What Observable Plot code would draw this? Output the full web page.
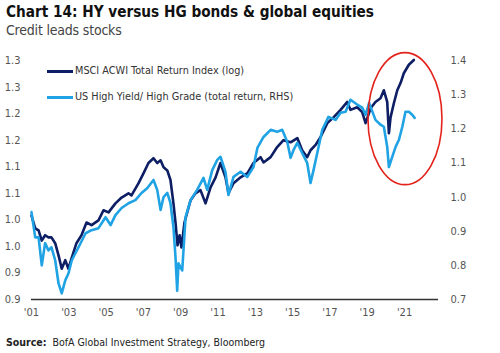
<!DOCTYPE html>
<html>
<head>
<meta charset="utf-8">
<script src="https://cdn.jsdelivr.net/npm/d3@7"></script>
<script src="https://cdn.jsdelivr.net/npm/@observablehq/plot@0.6"></script>
<style>
  html, body { margin: 0; padding: 0; background: #fff; }
  body { width: 500px; height: 353px; overflow: hidden; }
  #wrap { position: relative; width: 500px; height: 353px;
    font-family: "Liberation Sans Narrow", "DejaVu Sans Condensed", "Arial Narrow", Roboto, sans-serif; font-stretch: condensed; }
  .title { position: absolute; left: 6px; top: 3px; font-size: 15.2px; font-weight: bold; line-height: 18px; color: #111; white-space: nowrap; }
  .subtitle { position: absolute; left: 6px; top: 21px; font-size: 14px; letter-spacing: -0.2px; line-height: 18px; color: #444; white-space: nowrap; }
  .source { position: absolute; left: 6px; top: 334px; font-size: 10.5px; line-height: 16px; color: #222; white-space: nowrap; }
  .legend { position: absolute; left: 47px; font-size: 10.8px; line-height: 14px; color: #333; white-space: nowrap; display: flex; align-items: center; }
  .legend .sw { display: inline-block; width: 26px; height: 3px; margin-right: 2px; }
  #chart svg { position: absolute; left: 0; top: 40px; }
</style>
</head>
<body>
<div id="wrap">
  <div class="title">Chart 14: HY versus HG bonds &amp; global equities</div>
  <div class="subtitle">Credit leads stocks</div>
  <div id="chart"></div>
  <div class="legend" style="top:64px"><span class="sw" style="background:#0d1e64"></span>MSCI ACWI Total Return Index (log)</div>
  <div class="legend" style="top:90px"><span class="sw" style="background:#1fa3e4"></span>US High Yield/ High Grade (total return, RHS)</div>
  <div class="source"><b>Source:</b>&nbsp; BofA Global Investment Strategy, Bloomberg</div>
</div>
<script>
// MSCI ACWI Total Return Index (log) — left axis
const msciYears = [2001.00,2001.20,2001.38,2001.55,2001.73,2001.91,2002.07,2002.27,2002.45,2002.62,2002.81,2002.98,2003.16,2003.41,2003.68,2003.95,2004.22,2004.59,2004.86,2005.13,2005.50,2005.83,2006.20,2006.36,2006.74,2007.01,2007.27,2007.54,2007.74,2007.92,2008.08,2008.28,2008.45,2008.61,2008.72,2008.83,2008.94,2009.04,2009.20,2009.53,2009.79,2010.06,2010.33,2010.60,2010.87,2011.13,2011.40,2011.56,2011.83,2012.21,2012.58,2012.90,2013.28,2013.44,2013.82,2014.17,2014.51,2014.89,2015.25,2015.51,2015.78,2015.96,2016.23,2016.50,2016.86,2017.19,2017.57,2017.93,2018.10,2018.46,2018.73,2018.91,2019.18,2019.44,2019.71,2019.89,2020.07,2020.16,2020.25,2020.43,2020.61,2020.79,2020.96,2021.23,2021.50];
const msciValues = [1.058,1.034,1.030,1.011,1.021,1.017,1.017,1.006,0.983,0.958,0.974,0.958,0.979,1.006,1.021,1.045,1.040,1.049,1.068,1.064,1.081,1.092,1.100,1.096,1.119,1.138,1.157,1.166,1.157,1.162,1.149,1.143,1.125,1.081,1.045,1.002,1.021,0.998,1.045,1.087,1.100,1.106,1.081,1.111,1.130,1.157,1.130,1.100,1.119,1.130,1.138,1.157,1.168,1.158,1.168,1.187,1.200,1.196,1.204,1.181,1.168,1.181,1.191,1.206,1.232,1.243,1.257,1.272,1.257,1.262,1.253,1.232,1.260,1.272,1.279,1.294,1.272,1.213,1.243,1.270,1.294,1.308,1.326,1.342,1.351];

// US High Yield / High Grade (total return) — right axis
const hyhgYears = [2001.00,2001.20,2001.38,2001.55,2001.73,2001.91,2002.07,2002.27,2002.45,2002.62,2002.81,2002.98,2003.16,2003.52,2003.90,2004.22,2004.59,2004.97,2005.24,2005.50,2005.83,2006.20,2006.57,2006.90,2007.20,2007.54,2007.74,2007.92,2008.08,2008.28,2008.45,2008.61,2008.72,2008.81,2008.88,2009.08,2009.26,2009.53,2009.88,2010.22,2010.42,2010.69,2010.96,2011.13,2011.40,2011.56,2011.83,2012.21,2012.57,2012.90,2013.11,2013.44,2013.82,2014.17,2014.44,2014.71,2014.89,2015.05,2015.25,2015.51,2015.78,2015.96,2016.12,2016.32,2016.59,2016.92,2017.30,2017.57,2017.84,2018.10,2018.46,2018.73,2018.91,2019.10,2019.44,2019.71,2019.89,2020.07,2020.16,2020.34,2020.52,2020.70,2020.88,2021.05,2021.23,2021.41,2021.54];
const hyhgValues = [0.956,0.882,0.882,0.800,0.865,0.844,0.853,0.815,0.747,0.718,0.756,0.776,0.815,0.853,0.894,0.903,0.909,0.941,0.918,0.947,0.968,0.982,0.991,1.012,1.026,1.050,1.021,0.962,1.000,1.012,0.982,0.912,0.824,0.726,0.806,0.785,0.941,0.991,1.021,1.056,1.021,1.079,1.109,1.118,1.074,1.006,1.059,1.074,1.059,1.088,1.144,1.176,1.197,1.191,1.197,1.162,1.115,1.138,1.159,1.129,1.100,1.041,1.079,1.129,1.197,1.235,1.226,1.247,1.250,1.285,1.271,1.262,1.241,1.276,1.226,1.212,1.206,1.147,1.088,1.118,1.147,1.168,1.206,1.250,1.250,1.241,1.232];

// Axis ticks and labels
const leftTicks = [0.90,0.95,1.00,1.05,1.10,1.15,1.20,1.25,1.30,1.35];
const leftLabels = ["0.9","0.9","1.0","1.0","1.1","1.1","1.2","1.2","1.3","1.3"];
const rightTicks = [0.7,0.8,0.9,1.0,1.1,1.2,1.3,1.4];
const rightLabels = ["0.7","0.8","0.9","1.0","1.1","1.2","1.3","1.4"];
const xTicks = [2001,2003,2005,2007,2009,2011,2013,2015,2017,2019,2021];
const xLabels = ["'01","'03","'05","'07","'09","'11","'13","'15","'17","'19","'21"];

// Highlight ellipse annotation (center year, center left-axis value)
const highlight = [{year: 2021.05, value: 1.2396}];

const leftDomain = [0.90, 1.35];
const rightDomain = [0.70, 1.40];
const toLeft = v => leftDomain[0] + (v - rightDomain[0]) * (leftDomain[1] - leftDomain[0]) / (rightDomain[1] - rightDomain[0]);

const msci = msciYears.map((x, i) => ({x, y: msciValues[i]}));
const hyhg = hyhgYears.map((x, i) => ({x, y: toLeft(hyhgValues[i])}));
const rightMapped = rightTicks.map(toLeft);

const dark = "#0d1e64", light = "#1fa3e4";
const font = '"Liberation Sans Narrow", "DejaVu Sans Condensed", "Arial Narrow", Roboto, sans-serif';

const plot = Plot.plot({
  width: 500,
  height: 285,
  marginLeft: 31,
  marginRight: 62,
  marginTop: 20,
  marginBottom: 26,
  style: {fontFamily: font, fontSize: "11px", color: "#555", overflow: "visible"},
  x: {domain: [2001, 2022.82], label: null},
  y: {domain: leftDomain, label: null},
  marks: [
    Plot.axisY(leftTicks, {anchor: "left", label: null, tickSize: 0, tickPadding: 11, tickFormat: d => leftLabels[leftTicks.indexOf(d)], fill: "#555"}),
    Plot.axisY(rightMapped, {anchor: "right", label: null, tickSize: 0, tickPadding: 12, tickFormat: d => rightLabels[rightMapped.indexOf(d)], fill: "#555"}),
    Plot.axisX(xTicks, {label: null, tickSize: 0, tickPadding: 9, tickFormat: d => xLabels[xTicks.indexOf(d)], fill: "#555"}),
    Plot.ruleY([leftDomain[0]], {stroke: "#333", strokeWidth: 1.5}),
    Plot.line(msci, {x: "x", y: "y", stroke: dark, strokeWidth: 2.6, curve: "linear"}),
    Plot.line(hyhg, {x: "x", y: "y", stroke: light, strokeWidth: 2.6, curve: "linear"})
  ]
});

// Add the red highlight ellipse using the chart's scales
const sx = plot.scale("x"), sy = plot.scale("y");
const ns = "http://www.w3.org/2000/svg";
for (const h of highlight) {
  const e = document.createElementNS(ns, "ellipse");
  e.setAttribute("cx", sx.apply(h.year));
  e.setAttribute("cy", sy.apply(h.value));
  e.setAttribute("rx", 37);
  e.setAttribute("ry", 66);
  e.setAttribute("fill", "none");
  e.setAttribute("stroke", "#e3231b");
  e.setAttribute("stroke-width", 1.6);
  plot.appendChild(e);
}
document.getElementById("chart").appendChild(plot);
</script>
</body>
</html>
